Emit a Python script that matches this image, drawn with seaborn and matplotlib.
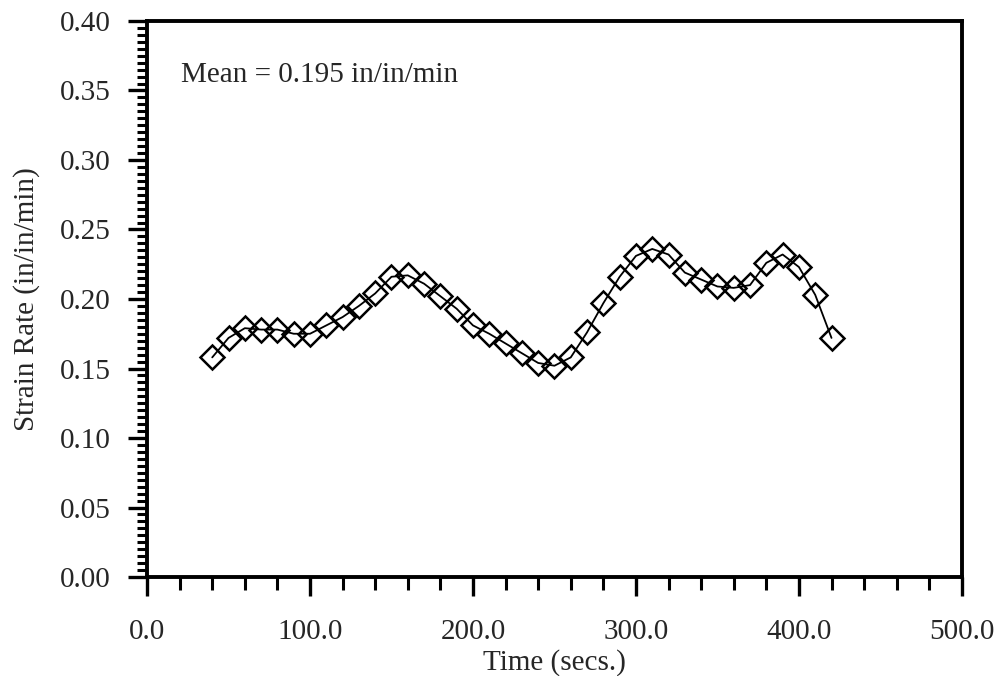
import numpy as np
import pandas as pd
import matplotlib
matplotlib.use("Agg")
import matplotlib.pyplot as plt
from matplotlib.ticker import MultipleLocator, FormatStrFormatter
import seaborn as sns

# Strain rate readings, every 10 s from 40 to 420 s
time_s = [40, 50, 60, 70, 80, 90, 100, 110, 120, 130,
          140, 150, 160, 170, 180, 190, 200, 210, 220, 230,
          240, 250, 260, 270, 280, 290, 300, 310, 320, 330,
          340, 350, 360, 370, 380, 390, 400, 410, 420]
strain_rate = [0.158, 0.172, 0.179, 0.178, 0.178, 0.175, 0.175, 0.181, 0.187, 0.195,
               0.204, 0.216, 0.217, 0.211, 0.202, 0.193, 0.181, 0.175, 0.168, 0.161,
               0.154, 0.152, 0.158, 0.176, 0.197, 0.216, 0.231, 0.236, 0.232, 0.219,
               0.214, 0.209, 0.208, 0.210, 0.226, 0.232, 0.223, 0.203, 0.172]
mean_label = "Mean = 0.195 in/in/min"

df = pd.DataFrame({"t": time_s, "rate": strain_rate})

sns.set_style("ticks")
plt.rcParams["font.family"] = ["Liberation Serif", "DejaVu Serif"]

fig = plt.figure(figsize=(10.03, 6.76), dpi=100)
ax = fig.add_axes([0.1466, 0.1464, 0.8124, 0.8226])

sns.lineplot(data=df, x="t", y="rate", ax=ax, color="black", linewidth=1.3,
             marker="D", markersize=12.5, markerfacecolor="none",
             markeredgecolor="black", markeredgewidth=1.8)

ax.set_xlim(0, 500)
ax.set_ylim(0, 0.40)
ax.xaxis.set_major_locator(MultipleLocator(100))
ax.xaxis.set_minor_locator(MultipleLocator(20))
ax.yaxis.set_major_locator(MultipleLocator(0.05))
ax.yaxis.set_minor_locator(MultipleLocator(0.005))
ax.xaxis.set_major_formatter(FormatStrFormatter("%.1f"))
ax.yaxis.set_major_formatter(FormatStrFormatter("%.2f"))

for side in ["left", "right", "top", "bottom"]:
    ax.spines[side].set_visible(True)
    ax.spines[side].set_linewidth(2.8)
    ax.spines[side].set_color("black")

ax.tick_params(axis="both", which="major", direction="out", length=14, width=2.4,
               labelsize=21, color="black")
ax.tick_params(axis="both", which="minor", direction="out", length=7, width=2.2,
               color="black")
ax.tick_params(axis="x", which="major", pad=16)
ax.tick_params(axis="x", which="minor", length=9)
ax.tick_params(axis="y", which="major", pad=12)

ax.set_xlabel("Time (secs.)", fontsize=21, labelpad=3)
ax.set_ylabel("Strain Rate (in/in/min)", fontsize=21, labelpad=14)

ax.text(21, 0.361, mean_label, fontsize=21, va="center", ha="left")

fig.savefig("out.png", dpi=100)
